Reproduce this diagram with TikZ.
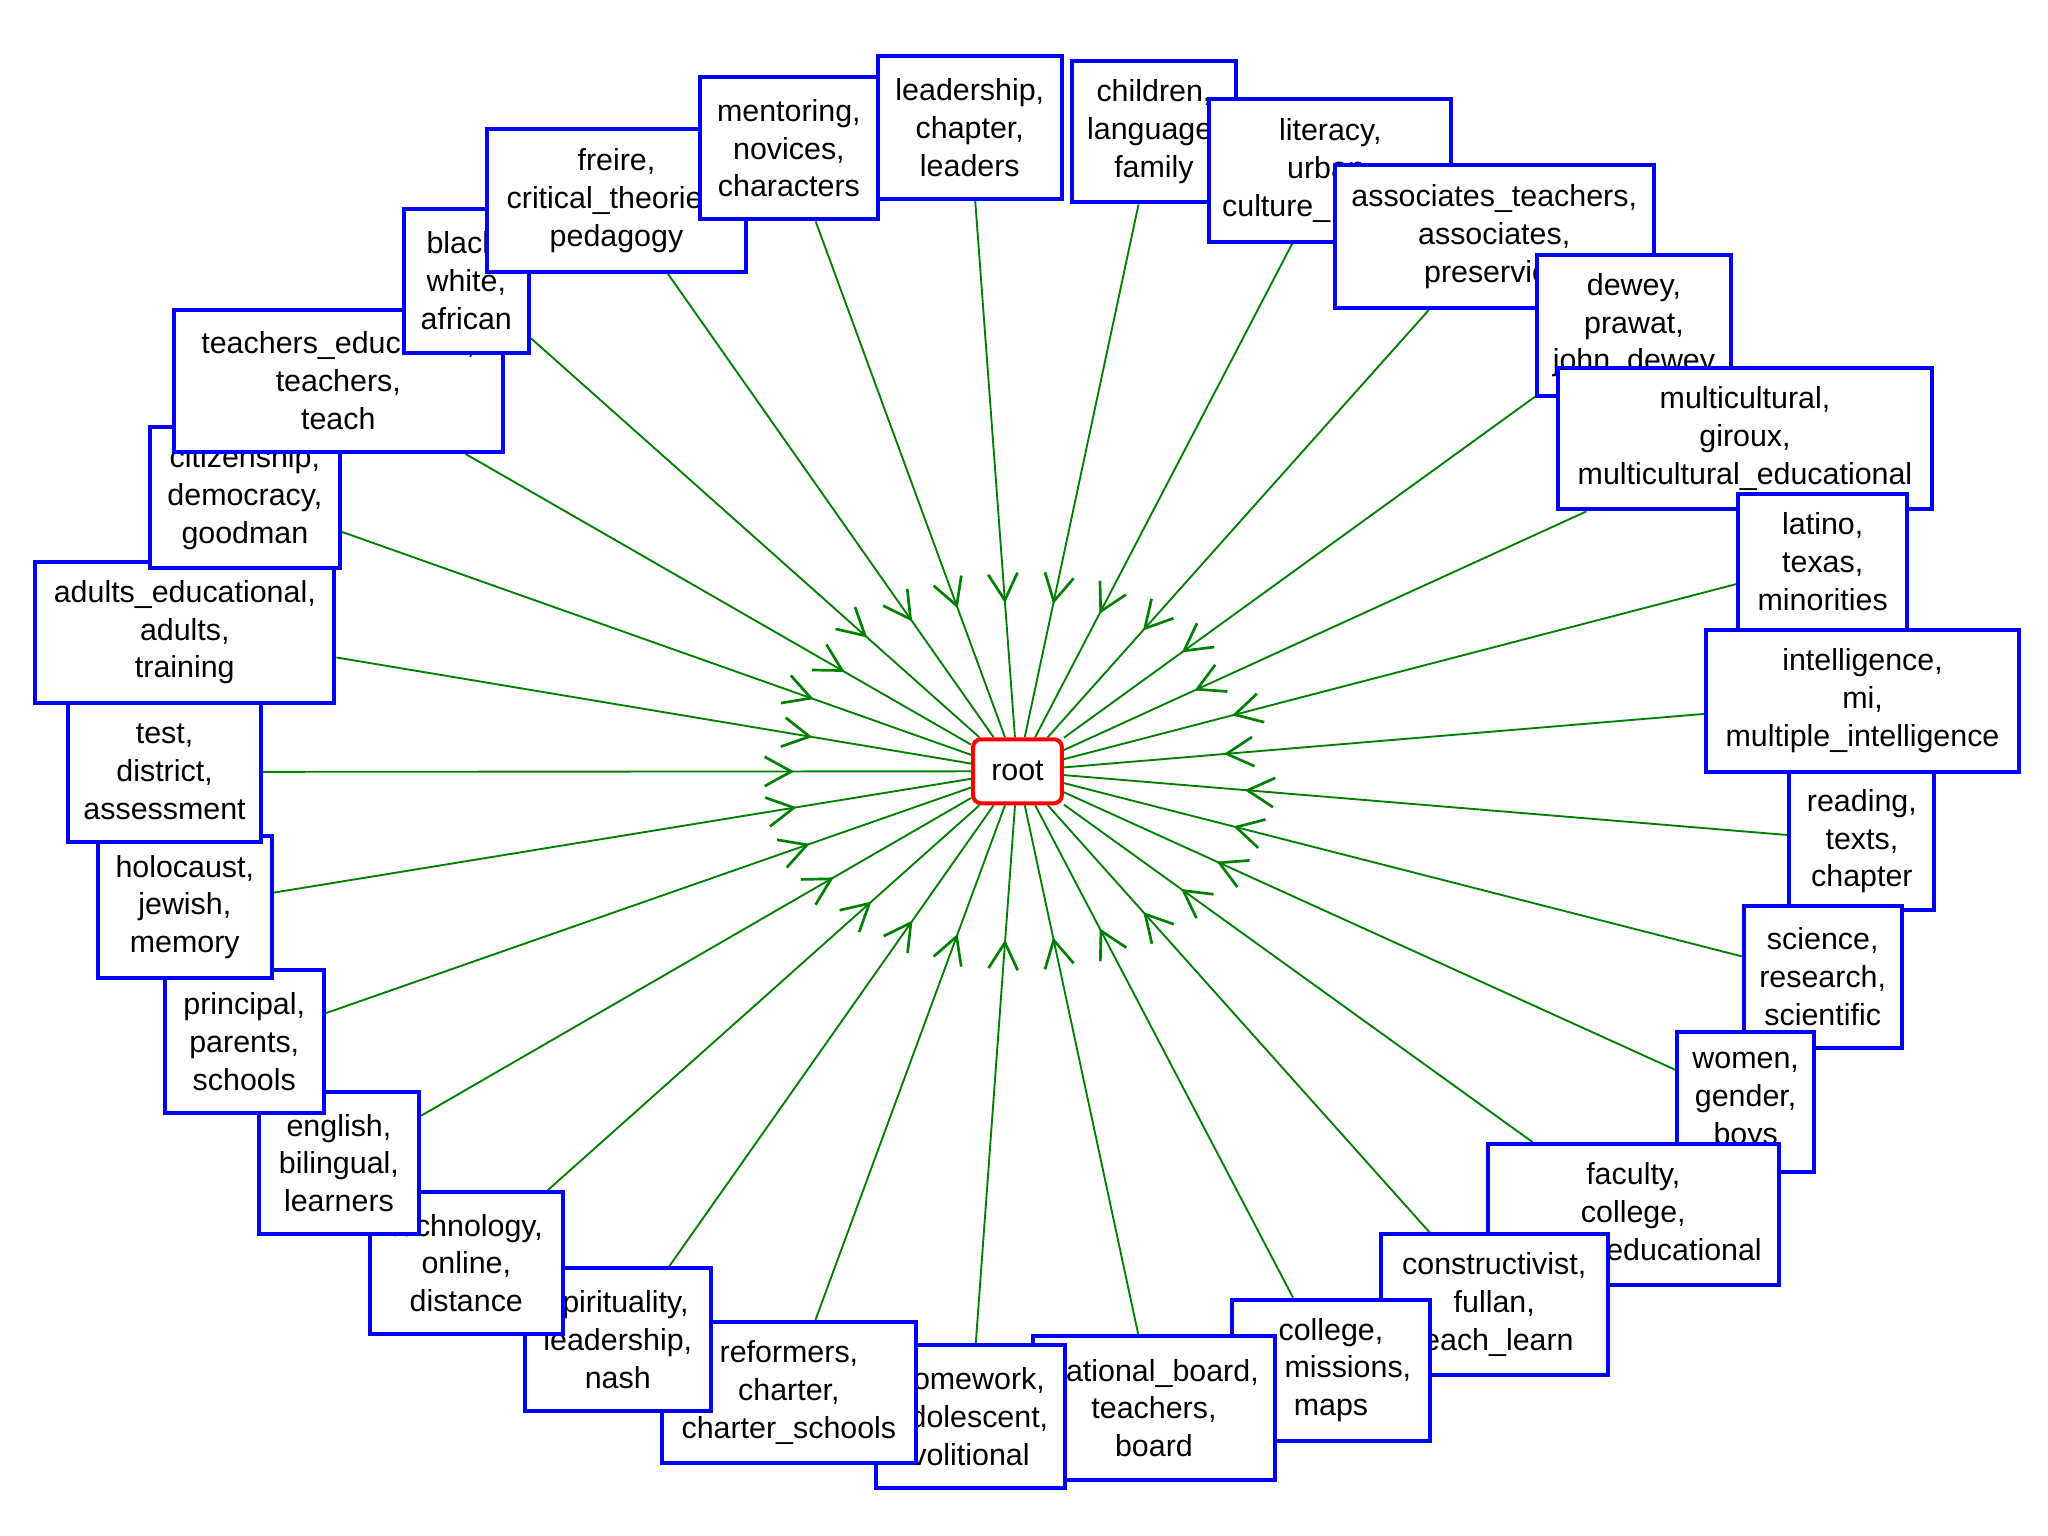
\documentclass[tikz,border=0pt]{standalone}
\usepackage{fontspec}
\setmainfont{Liberation Sans}
\usetikzlibrary{backgrounds,decorations.markings,arrows.meta}
\definecolor{edgegreen}{RGB}{0,128,0}
\newcommand\kwbox[6]{\node[kw, minimum width={(#4-#2)*0.4898pt}, minimum height={(#5-#3)*0.4898pt}] (#1) at ({(#2+#4)/2},{(#3+#5)/2}) {#6};}
\begin{document}
\begin{tikzpicture}[x=0.4898pt,y=-0.4898pt,
  kw/.style={draw=blue, line width=1.5pt, fill=white, inner sep=0pt, align=center,
    font=\fontsize{11.4}{14.2}\selectfont, text=black},
  rootbox/.style={draw=red, line width=1.5pt, fill=white, inner sep=0pt, rounded corners=3pt,
    font=\fontsize{11.4}{14.2}\selectfont, text=black},
  conn/.style={draw=edgegreen, line width=0.7pt, postaction={decorate},
    decoration={markings, mark=at position 0.75 with {\arrow[edgegreen, line width=1pt]{Straight Barb[length=10pt,width=11pt]}}}}
]
\useasboundingbox (0,0) rectangle (1568,1176);
\node[rootbox, minimum width={68*0.4898pt}, minimum height={49*0.4898pt}] (root) at (779,590.5) {root};
\kwbox{lead}{672}{43}{813}{152}{leadership,\\chapter,\\leaders}
\kwbox{child}{821}{47}{946}{155}{children,\\language,\\family}
\kwbox{lit}{926}{76}{1111}{185}{literacy,\\urban,\\culture\_\phantom{relevant}}
\kwbox{assoc}{1022}{126}{1266}{236}{associates\_teachers,\\associates,\\preservice}
\kwbox{dewey}{1177}{195}{1325}{303}{dewey,\\prawat,\\john\_dewey}
\kwbox{multi}{1193}{282}{1479}{390}{multicultural,\\giroux,\\multicultural\_educational}
\kwbox{latino}{1331}{378}{1460}{482}{latino,\\texas,\\minorities}
\kwbox{intel}{1306}{482}{1546}{591}{intelligence,\\mi,\\multiple\_intelligence}
\kwbox{read}{1370}{591}{1481}{697}{reading,\\texts,\\chapter}
\kwbox{sci}{1335}{694}{1456}{802}{science,\\research,\\scientific}
\kwbox{women}{1284}{790}{1389}{897}{women,\\gender,\\boys}
\kwbox{fac}{1139}{876}{1362}{984}{faculty,\\college,\\\phantom{higher\_}educational}
\kwbox{cons}{1057}{945}{1231}{1053}{constructivist,\\fullan,\\teach\_learn}
\kwbox{coll}{943}{995}{1095}{1103}{college,\\\phantom{ad}missions,\\maps}
\kwbox{nat}{791}{1023}{976}{1133}{national\_board,\\teachers,\\board}
\kwbox{home}{671}{1030}{815}{1139}{homework,\\adolescent,\\volitional}
\kwbox{ref}{507}{1012}{701}{1120}{reformers,\\charter,\\charter\_schools}
\kwbox{spir}{402}{971}{544}{1080}{spirituality,\\leadership,\\nash}
\kwbox{tech}{283}{913}{431}{1021}{technology,\\online,\\distance}
\kwbox{eng}{198}{836}{321}{945}{english,\\bilingual,\\learners}
\kwbox{prin}{126}{743}{248}{852}{principal,\\parents,\\schools}
\kwbox{holo}{75}{640}{208}{749}{holocaust,\\jewish,\\memory}
\kwbox{test}{52}{537}{200}{645}{test,\\district,\\assessment}
\kwbox{adult}{27}{430}{256}{538}{adults\_educational,\\adults,\\training}
\kwbox{citi}{115}{327}{260}{435}{citizenship,\\democracy,\\goodman}
\kwbox{teach}{133}{237}{385}{346}{teachers\_education,\\teachers,\\teach}
\kwbox{black}{309}{160}{405}{270}{black,\\white,\\african}
\kwbox{freire}{373}{99}{571}{208}{freire,\\critical\_theories,\\pedagogy}
\kwbox{ment}{536}{59}{672}{168}{mentoring,\\novices,\\characters}
\begin{scope}[on background layer]
\foreach \n in {lead,child,lit,assoc,dewey,multi,latino,intel,read,sci,women,fac,cons,coll,nat,home,ref,spir,tech,eng,prin,holo,test,adult,citi,teach,black,freire,ment}
  \draw[conn] (\n) -- (root);
\end{scope}
\end{tikzpicture}
\end{document}
